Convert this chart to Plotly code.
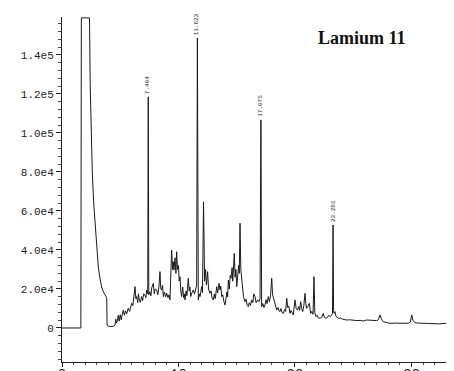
import plotly.graph_objects as go

# Retention time (min) and abundance
time_min = [0.00, 1.62, 1.66, 2.36, 2.42, 2.50, 2.60, 2.72, 2.85, 3.00, 3.12, 3.26, 3.40, 3.55, 3.70, 3.80, 3.84, 3.87,
            4.00, 4.20, 4.40, 4.55, 4.62, 4.68, 4.76, 4.83, 4.90, 5.00, 5.08, 5.18, 5.26, 5.35, 5.45, 5.55, 5.69, 5.80,
            5.90, 5.98, 6.08, 6.15, 6.27, 6.34, 6.41, 6.50, 6.56, 6.64, 6.72, 6.84, 6.92, 7.00, 7.12, 7.20, 7.27, 7.36,
            7.404, 7.45, 7.55, 7.63, 7.70, 7.84, 7.92, 8.00, 8.13, 8.22, 8.32, 8.41, 8.48, 8.56, 8.63, 8.70, 8.80, 8.90,
            8.99, 9.10, 9.18, 9.27, 9.35, 9.41, 9.50, 9.55, 9.61, 9.70, 9.78, 9.84, 9.92, 10.00, 10.06, 10.13, 10.20,
            10.27, 10.36, 10.44, 10.50, 10.56, 10.65, 10.72, 10.84, 10.92, 10.98, 11.05, 11.15, 11.27, 11.38, 11.46,
            11.56, 11.622, 11.70, 11.78, 11.85, 11.93, 11.99, 12.06, 12.15, 12.24, 12.32, 12.40, 12.50, 12.58, 12.70,
            12.80, 12.88, 12.99, 13.08, 13.16, 13.28, 13.36, 13.48, 13.56, 13.63, 13.71, 13.80, 13.90, 13.99, 14.08,
            14.16, 14.22, 14.28, 14.36, 14.44, 14.51, 14.60, 14.66, 14.73, 14.79, 14.86, 14.93, 15.00, 15.08, 15.16,
            15.22, 15.28, 15.35, 15.42, 15.50, 15.58, 15.71, 15.80, 15.90, 15.99, 16.08, 16.18, 16.28, 16.38, 16.46,
            16.57, 16.66, 16.80, 16.92, 17.00, 17.075, 17.14, 17.24, 17.34, 17.42, 17.52, 17.60, 17.71, 17.80, 17.90,
            18.00, 18.08, 18.20, 18.30, 18.43, 18.55, 18.62, 18.71, 18.80, 18.88, 19.00, 19.10, 19.20, 19.29, 19.38,
            19.47, 19.57, 19.66, 19.75, 19.85, 20.00, 20.10, 20.20, 20.32, 20.40, 20.49, 20.58, 20.66, 20.76, 20.86,
            20.93, 21.00, 21.10, 21.23, 21.30, 21.35, 21.45, 21.55, 21.63, 21.70, 21.80, 21.90, 22.00, 22.15, 22.30,
            22.43, 22.52, 22.66, 22.80, 22.90, 23.00, 23.15, 23.22, 23.265, 23.31, 23.36, 23.43, 23.52, 23.72, 23.90,
            24.10, 24.43, 24.70, 25.00, 25.30, 25.60, 25.90, 26.15, 26.50, 26.80, 27.01, 27.15, 27.30, 27.42, 27.58,
            27.85, 28.15, 28.60, 29.01, 29.40, 29.73, 29.90, 30.02, 30.12, 30.30, 30.60, 31.02, 31.40, 31.87, 32.40,
            33.02, 33.65]

abundance = [0, 0, 159000, 159000, 125000, 100000, 80000, 64000, 52000, 38000, 31000, 25600, 21000, 18500, 17000, 16000, 15500, 1500,
             900, 700, 900, 1500, 4500, 2500, 3800, 6500, 3500, 6800, 4200, 7000, 9200, 6500, 8800, 7200, 10100, 8500,
             11000, 12700, 11500, 14500, 21200, 15000, 16100, 13000, 17500, 14400, 13200, 16100, 14000, 17500, 16900, 15500, 19500, 17500,
             118500, 17000, 18600, 16500, 20500, 22900, 17500, 20000, 19500, 17000, 21000, 28900, 20000, 19500, 22000, 16100, 18500, 16000,
             17800, 15500, 17000, 14400, 25000, 40000, 30000, 34000, 29700, 36000, 28000, 39100, 30000, 32000, 24000, 26300, 19000,
             16100, 21000, 15500, 17500, 14400, 19000, 16500, 25500, 19000, 21000, 16100, 18000, 19500, 17500, 20500,
             22000, 148700, 14400, 17500, 16100, 19000, 21200, 18000, 64700, 24000, 30000, 22000, 28900, 20000, 17800,
             19000, 15500, 14400, 17500, 15000, 21200, 18000, 22900, 19500, 21500, 16100, 17000, 13500, 11800, 15000,
             18500, 16000, 24600, 20000, 27000, 25500, 31000, 24000, 30000, 38300, 26000, 30000, 21200, 26000, 32000,
             28000, 53700, 30000, 24600, 19000, 16000, 13500, 14800, 11500, 10900, 13000, 11500, 14400, 13000, 17500,
             16100, 13000, 14400, 13500, 15000, 106700, 10900, 12500, 10500, 11800, 14500, 12500, 16100, 13500, 16500,
             25500, 17000, 14400, 11500, 9200, 10500, 8800, 8400, 10000, 8000, 7500, 9500, 8500, 15200, 10500,
             11200, 7500, 9000, 8000, 6700, 14400, 10000, 9200, 11000, 9000, 13500, 10000, 8400, 11500, 17800,
             12500, 10100, 11000, 12700, 9500, 7500, 8500, 7000, 26300, 8000, 5800, 6500, 5200, 5000, 5500,
             7500, 5500, 5000, 5500, 6500, 5800, 6500, 7500, 52800, 9000, 7500, 8400, 6000, 5000, 5000,
             4500, 4100, 4200, 3900, 3800, 3900, 3600, 4100, 3900, 3700, 3800, 4200, 6700, 4500, 3200,
             2800, 2400, 2500, 2400, 2300, 2400, 3000, 6700, 4000, 2700, 2500, 2400, 2200, 1900, 2100,
             2400, 2300]

peak_times = [7.404, 11.622, 17.075, 23.265]
peak_heights = [118500, 148700, 106700, 52800]
peak_labels = ["7.404", "11.622", "17.075", "23.265"]

y_tickvals = [0, 20000, 40000, 60000, 80000, 100000, 120000, 140000]
y_ticktext = ["0", "2.0e4", "4.0e4", "6.0e4", "8.0e4", "1.0e5", "1.2e5", "1.4e5"]
x_tickvals = [0, 10, 20, 30]
x_ticktext = ["0", "10", "20", "30"]

fig = go.Figure()
fig.add_trace(go.Scatter(x=time_min, y=abundance, mode="lines",
                         line=dict(color="#1a1a1a", width=1), hoverinfo="skip"))

for t, h, lab in zip(peak_times, peak_heights, peak_labels):
    fig.add_annotation(x=t, y=h, text=lab, showarrow=False, textangle=-90,
                       xanchor="center", yanchor="bottom", yshift=1,
                       font=dict(family="Liberation Mono", size=6, color="#222"))

fig.add_annotation(xref="paper", yref="paper", x=0.765, y=0.94, text="<b>Lamium 11</b>",
                   showarrow=False, xanchor="center", yanchor="middle",
                   font=dict(family="Liberation Serif", size=18, color="#111"))

# the page body adds an 8px margin, so the figure is sized to fit the window
fig.update_layout(
    width=446, height=363,
    margin=dict(l=54, r=0, t=9, b=9),
    paper_bgcolor="white", plot_bgcolor="white",
    showlegend=False,
    xaxis=dict(range=[0, 33.65], tickvals=x_tickvals, ticktext=x_ticktext, automargin=False,
               showgrid=False, zeroline=False, showline=True, linecolor="#222", linewidth=1,
               ticks="outside", ticklen=4, tickcolor="#222", ticklabelstandoff=-5,
               minor=dict(dtick=1, ticks="outside", ticklen=2, tickcolor="#444", showgrid=False),
               tickfont=dict(family="Liberation Mono", size=14, color="#222")),
    yaxis=dict(range=[-17440, 159460], tickvals=y_tickvals, ticktext=y_ticktext, automargin=False,
               showgrid=False, zeroline=False, showline=True, linecolor="#222", linewidth=1,
               ticks="outside", ticklen=5, tickcolor="#222",
               minor=dict(dtick=4000, ticks="outside", ticklen=3, tickcolor="#444", showgrid=False),
               tickfont=dict(family="Liberation Mono", size=11, color="#222")),
)

fig.write_html("out.html")
